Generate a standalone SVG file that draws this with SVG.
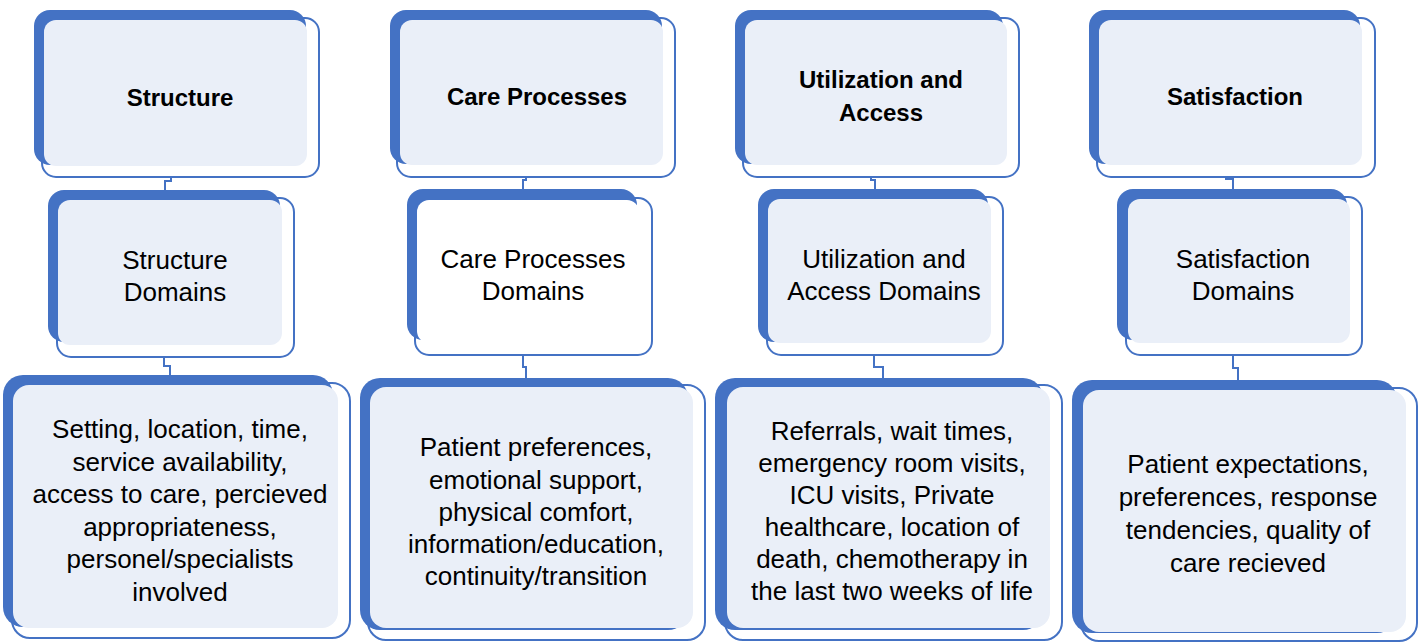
<svg xmlns="http://www.w3.org/2000/svg" width="1424" height="644" viewBox="0 0 1424 644">
<style>
.ol{fill:none;stroke:#4472c4;stroke-width:2}
.bk{fill:#4472c4}
.lf{fill:#eaeff8}
.wf{fill:#ffffff}
.h{font-family:"Liberation Sans",Arial,sans-serif;font-weight:bold;font-size:24px;fill:#000;text-anchor:middle}
.t{font-family:"Liberation Sans",Arial,sans-serif;font-size:26px;fill:#000;text-anchor:middle}
.c{fill:none;stroke:#4472c4;stroke-width:2}
</style>
<rect width="1424" height="644" fill="#fff"/>
<g id="connectors">
<path class="c" d="M171 177 V181 H165 V190"/>
<path class="c" d="M164 357 V366 H170 V375"/>
<path class="c" d="M526 177 V180 H523 V189"/>
<path class="c" d="M523 355 V367 H526 V378"/>
<path class="c" d="M871 177 V180 H875 V189"/>
<path class="c" d="M874 355 V367 H883 V378"/>
<path class="c" d="M1226 177 V179 H1233 V189"/>
<path class="c" d="M1233 355 V368 H1238 V380"/>
</g>
<g id="structure">
<rect class="ol" x="42" y="18" width="277" height="159" rx="14"/>
<rect class="bk" x="34" y="10" width="272" height="155" rx="16"/>
<rect class="lf" x="44" y="20" width="263" height="146" rx="12"/>
<text class="h" x="180" y="106">Structure</text>
</g>
<g id="care-processes">
<rect class="ol" x="397" y="18" width="278" height="159" rx="14"/>
<rect class="bk" x="390" y="10" width="272" height="154" rx="16"/>
<rect class="lf" x="400" y="20" width="263" height="145" rx="12"/>
<text class="h" x="537" y="105">Care Processes</text>
</g>
<g id="utilization-access">
<rect class="ol" x="743" y="18" width="276" height="159" rx="14"/>
<rect class="bk" x="735" y="10" width="268" height="154" rx="16"/>
<rect class="lf" x="745" y="20" width="262" height="145" rx="12"/>
<text class="h" x="881" y="88">Utilization and</text>
<text class="h" x="881" y="121">Access</text>
</g>
<g id="satisfaction">
<rect class="ol" x="1097" y="18" width="278" height="159" rx="14"/>
<rect class="bk" x="1089" y="10" width="271" height="154" rx="16"/>
<rect class="lf" x="1099" y="20" width="263" height="145" rx="12"/>
<text class="h" x="1235" y="105">Satisfaction</text>
</g>
<g id="structure-domains">
<rect class="ol" x="57" y="198" width="237" height="159" rx="14"/>
<rect class="bk" x="48" y="190" width="232" height="152" rx="16"/>
<rect class="lf" x="58" y="200" width="224" height="145" rx="12"/>
<text class="t" x="175" y="269">Structure</text>
<text class="t" x="175" y="301">Domains</text>
</g>
<g id="care-processes-domains">
<rect class="ol" x="415" y="198" width="237" height="157" rx="14"/>
<rect class="bk" x="407" y="189" width="230" height="151" rx="16"/>
<rect class="wf" x="417" y="200" width="222" height="143" rx="12"/>
<text class="t" x="533" y="268">Care Processes</text>
<text class="t" x="533" y="300">Domains</text>
</g>
<g id="utilization-access-domains">
<rect class="ol" x="767" y="197" width="236" height="158" rx="14"/>
<rect class="bk" x="758" y="189" width="230" height="153" rx="16"/>
<rect class="lf" x="768" y="199" width="223" height="144" rx="12"/>
<text class="t" x="884" y="268">Utilization and</text>
<text class="t" x="884" y="300">Access Domains</text>
</g>
<g id="satisfaction-domains">
<rect class="ol" x="1126" y="197" width="236" height="158" rx="14"/>
<rect class="bk" x="1117" y="189" width="230" height="151" rx="16"/>
<rect class="lf" x="1128" y="199" width="222" height="144" rx="12"/>
<text class="t" x="1243" y="268">Satisfaction</text>
<text class="t" x="1243" y="300">Domains</text>
</g>
<g id="structure-items">
<rect class="ol" x="12" y="383" width="338" height="255" rx="18"/>
<rect class="bk" x="3" y="375" width="330" height="252" rx="20"/>
<rect class="lf" x="13" y="385" width="325" height="243" rx="16"/>
<text class="t" x="180" y="438">Setting, location, time,</text>
<text class="t" x="180" y="470.5">service availability,</text>
<text class="t" x="180" y="503">access to care, percieved</text>
<text class="t" x="180" y="535.5">appropriateness,</text>
<text class="t" x="180" y="568">personel/specialists</text>
<text class="t" x="180" y="600.5">involved</text>
</g>
<g id="care-processes-items">
<rect class="ol" x="368" y="385" width="337" height="255" rx="18"/>
<rect class="bk" x="360" y="378" width="328" height="252" rx="20"/>
<rect class="lf" x="370" y="387" width="323" height="241" rx="16"/>
<text class="t" x="536" y="456">Patient preferences,</text>
<text class="t" x="536" y="488.5">emotional support,</text>
<text class="t" x="536" y="521">physical comfort,</text>
<text class="t" x="536" y="553">information/education,</text>
<text class="t" x="536" y="585">continuity/transition</text>
</g>
<g id="utilization-access-items">
<rect class="ol" x="725" y="385" width="337" height="255" rx="18"/>
<rect class="bk" x="715" y="378" width="328" height="252" rx="20"/>
<rect class="lf" x="727" y="387" width="323" height="241" rx="16"/>
<text class="t" x="892" y="440">Referrals, wait times,</text>
<text class="t" x="892" y="472">emergency room visits,</text>
<text class="t" x="892" y="504">ICU visits, Private</text>
<text class="t" x="892" y="536">healthcare, location of</text>
<text class="t" x="892" y="568">death, chemotherapy in</text>
<text class="t" x="892" y="600">the last two weeks of life</text>
</g>
<g id="satisfaction-items">
<rect class="ol" x="1081" y="388" width="336" height="253" rx="18"/>
<rect class="bk" x="1072" y="380" width="325" height="253" rx="20"/>
<rect class="lf" x="1083" y="390" width="323" height="242" rx="16"/>
<text class="t" x="1248" y="473">Patient expectations,</text>
<text class="t" x="1248" y="506">preferences, response</text>
<text class="t" x="1248" y="539">tendencies, quality of</text>
<text class="t" x="1248" y="572">care recieved</text>
</g>
</svg>
